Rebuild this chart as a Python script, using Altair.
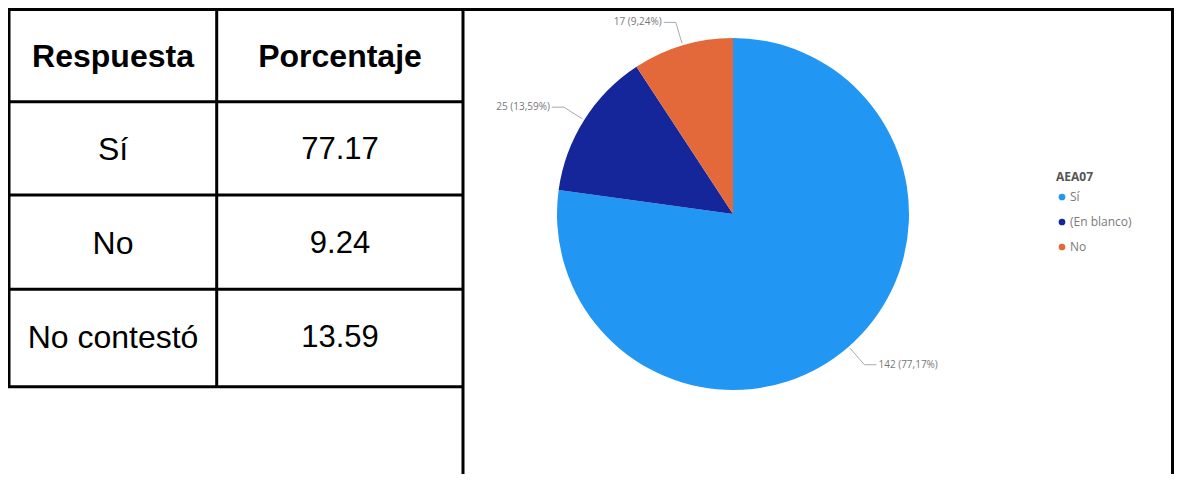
import math
import altair as alt
import pandas as pd

# ---- Tabla ----
encabezados = ["Respuesta", "Porcentaje"]
respuestas = ["Sí", "No", "No contestó"]
porcentajes = [77.17, 9.24, 13.59]

# ---- Gráfico circular ----
categorias = ["Sí", "(En blanco)", "No"]
cuentas = [142, 25, 17]
colores = ["#2196F3", "#15259A", "#E4693A"]
titulo_leyenda = "AEA07"

# ---- layout ----
W, H = 1166, 466
CX, CY, R = 725, 206, 176
R_LBL = 200

total = sum(cuentas)
pie_df = pd.DataFrame({"categoria": categorias, "cuenta": cuentas,
                       "orden": list(range(len(categorias)))})

# leader lines and label anchors derived from the counts
lead_rows, lbl_rows = [], []
acum = 0
for cat, c in zip(categorias, cuentas):
    medio = acum + c / 2
    acum += c
    a = 2 * math.pi * medio / total
    s, co = math.sin(a), -math.cos(a)
    x1, y1 = CX + (R + 2) * s, CY + (R + 2) * co
    x2, y2 = CX + R_LBL * s, CY + R_LBL * co
    sgn = 1 if s > 0 else -1
    x3 = x2 + 12 * sgn
    for k, (x, y) in enumerate([(x1, y1), (x2, y2), (x3, y2)]):
        lead_rows.append({"categoria": cat, "k": k, "x": x, "y": y})
    etiqueta = f"{c} ({c / total * 100:.2f}%)".replace(".", ",")
    lbl_rows.append({"categoria": cat, "etiqueta": etiqueta, "lx": x3 + 2 * sgn,
                     "ly": y2, "lado": "der" if sgn > 0 else "izq"})
lead_df = pd.DataFrame(lead_rows)
lbl_df = pd.DataFrame(lbl_rows)

px = alt.Scale(domain=[0, W], range=[0, W], nice=False, zero=False)
py = alt.Scale(domain=[0, H], range=[0, H], nice=False, zero=False)

one = pd.DataFrame({"a": [0]})
LINE = "#000000"
SW = 3


def hline(y, x1, x2):
    return alt.Chart(one).mark_rule(color=LINE, strokeWidth=SW).encode(
        x=alt.value(x1), x2=alt.value(x2), y=alt.value(y))


def vline(x, y1, y2):
    return alt.Chart(one).mark_rule(color=LINE, strokeWidth=SW).encode(
        x=alt.value(x), y=alt.value(y1), y2=alt.value(y2))


grid = [
    hline(1.5, 0, W),
    hline(93.7, 0, 455),
    hline(187, 0, 455),
    hline(281.3, 0, 455),
    hline(378.7, 0, 455),
    vline(1, 0, 380),
    vline(208.7, 0, 380),
    vline(455, 0, H),
    vline(W - 1.5, 0, H),
]

table_df = pd.DataFrame({"respuesta": respuestas, "porcentaje": porcentajes})
head_df = pd.DataFrame({"encabezado": encabezados})

row_y = alt.Y("respuesta:N", scale=alt.Scale(domain=respuestas, range=[142, 330], padding=0), axis=None)

header = alt.Chart(head_df).mark_text(font="Liberation Sans", fontSize=32, fontWeight="bold",
                                      color="#000000", baseline="middle").encode(
    x=alt.X("encabezado:N", scale=alt.Scale(domain=encabezados, range=[105, 332], padding=0), axis=None),
    y=alt.value(49),
    text="encabezado:N",
)
col1 = alt.Chart(table_df).mark_text(font="Liberation Sans", fontSize=32, color="#000000",
                                     baseline="middle").encode(
    x=alt.value(105), y=row_y, text="respuesta:N")
col2 = alt.Chart(table_df).mark_text(font="Liberation Sans", fontSize=31, color="#000000",
                                     baseline="middle").encode(
    x=alt.value(332), y=row_y, text=alt.Text("porcentaje:Q", format=".2f"))

pie = alt.Chart(pie_df).mark_arc(radius=R).encode(
    theta=alt.Theta("cuenta:Q", stack=True),
    order=alt.Order("orden:Q"),
    color=alt.Color("categoria:N", scale=alt.Scale(domain=categorias, range=colores),
                    legend=alt.Legend(title=titulo_leyenda, orient="none", legendX=1048, legendY=164,
                                      symbolType="circle", symbolSize=45, symbolStrokeWidth=0,
                                      labelFont="Open Sans", labelFontSize=12, labelColor="#7a7a7a",
                                      titleFont="Open Sans", titleFontSize=12, titleColor="#555555",
                                      titleFontWeight="bold", rowPadding=13, titlePadding=7,
                                      labelOffset=2, padding=0)),
    x=alt.value(CX),
    y=alt.value(CY),
)

leaders = alt.Chart(lead_df).mark_line(color="#aaaaaa", strokeWidth=1).encode(
    x=alt.X("x:Q", scale=px, axis=None),
    y=alt.Y("y:Q", scale=py, axis=None),
    detail="categoria:N",
    order="k:Q",
)

lbl_left = alt.Chart(lbl_df).transform_filter(alt.datum.lado == "izq").mark_text(
    font="Open Sans", fontSize=10, color="#777777", align="right", baseline="middle").encode(
    x=alt.X("lx:Q", scale=px, axis=None), y=alt.Y("ly:Q", scale=py, axis=None), text="etiqueta:N")
lbl_right = alt.Chart(lbl_df).transform_filter(alt.datum.lado == "der").mark_text(
    font="Open Sans", fontSize=10, color="#777777", align="left", baseline="middle").encode(
    x=alt.X("lx:Q", scale=px, axis=None), y=alt.Y("ly:Q", scale=py, axis=None), text="etiqueta:N")

chart = alt.layer(*grid, header, col1, col2, pie, leaders, lbl_left, lbl_right).resolve_scale(
    x="independent", y="independent"
).properties(
    width=W, height=H, padding=0, background="#ffffff",
    autosize=alt.AutoSizeParams(type="none"),
).configure_view(strokeWidth=0)

chart.save("out.html", embed_options={"renderer": "svg", "actions": False})
